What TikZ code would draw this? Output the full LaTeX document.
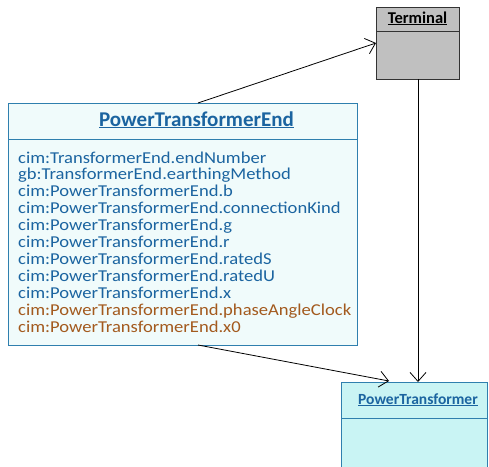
\documentclass[tikz,border=0pt]{standalone}
\usepackage{fontspec}
\setmainfont{Carlito}
\newfontfamily\attrfont[FakeStretch=1.12]{Carlito}
\usetikzlibrary{arrows.meta}
\definecolor{pteborder}{HTML}{2F7FAE}
\definecolor{ptefill}{HTML}{F0FBFB}
\definecolor{ptfill}{HTML}{C9F4F4}
\definecolor{bluetxt}{HTML}{1B64A0}
\definecolor{browntxt}{HTML}{A35A1E}
\definecolor{termfill}{HTML}{C0C0C0}
\tikzset{
  conn/.style={draw=black, line width=0.8pt, -{Straight Barb[length=9pt,width=16pt,line width=0.8pt]}},
  attr/.style={anchor=base west, inner sep=0pt, font=\attrfont\fontsize{16.6}{18}\selectfont},
  boxline/.style={line width=0.9pt},
}
\begin{document}
\begin{tikzpicture}[x=1pt,y=-1pt]
\useasboundingbox (0,0) rectangle (489,466);
% Terminal
\draw[boxline, fill=termfill, draw=black!80] (376,7) rectangle (459,79);
\draw[boxline, draw=black!80] (376,31) -- (459,31);
\node[anchor=base, inner sep=0pt, font=\bfseries\fontsize{16.5}{18}\selectfont] (termtitle) at (417.5,23) {\underline{Terminal}};
\coordinate (termL) at (376,43);
\coordinate (termB) at (418,79);
% PowerTransformerEnd
\draw[boxline, fill=ptefill, draw=pteborder] (8,103) rectangle (357,345);
\draw[boxline, draw=pteborder] (8,139) -- (357,139);
\node[anchor=base, inner sep=0pt, text=bluetxt, font=\bfseries\fontsize{21}{23}\selectfont] (ptetitle) at (196.5,126) {\underline{PowerTransformerEnd}};
\coordinate (pteT) at (198,103);
\coordinate (pteB) at (198,345);
\foreach \t [count=\i from 0] in {cim:TransformerEnd.endNumber,gb:TransformerEnd.earthingMethod,cim:PowerTransformerEnd.b,cim:PowerTransformerEnd.connectionKind,cim:PowerTransformerEnd.g,cim:PowerTransformerEnd.r,cim:PowerTransformerEnd.ratedS,cim:PowerTransformerEnd.ratedU,cim:PowerTransformerEnd.x}
  \node[attr, text=bluetxt] (a\i) at (18,163+16.9*\i) {\t};
\node[attr, text=browntxt] (a9) at (18,315.1) {cim:PowerTransformerEnd.phaseAngleClock};
\node[attr, text=browntxt] (a10) at (18,332) {cim:PowerTransformerEnd.x0};
% PowerTransformer
\fill[ptfill] (341,382) rectangle (487,467);
\draw[boxline, draw=pteborder] (341,467) -- (341,382) -- (487,382) -- (487,467);
\draw[boxline, draw=pteborder] (341,418) -- (487,418);
\node[anchor=base, inner sep=0pt, text=bluetxt, font=\bfseries\fontsize{15.5}{17}\selectfont] (pttitle) at (418,404) {\underline{PowerTransformer}};
\coordinate (ptT1) at (389,381);
\coordinate (ptT2) at (418,382);
% connectors
\draw[conn] (pteT) -- (termL);
\draw[conn] (pteB) -- (ptT1);
\draw[conn] (termB) -- (ptT2);
\end{tikzpicture}
\end{document}
